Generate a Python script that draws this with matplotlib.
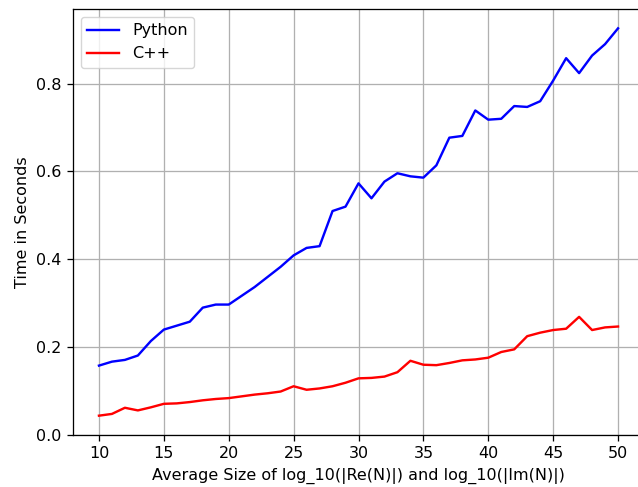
import matplotlib
matplotlib.use("Agg")
import matplotlib.pyplot as plt

sizes = list(range(10, 51))
python_times = [0.158, 0.167, 0.171, 0.181, 0.214, 0.240, 0.249, 0.258, 0.290, 0.297,
                0.297, 0.317, 0.337, 0.360, 0.383, 0.409, 0.426, 0.430, 0.510, 0.520,
                0.573, 0.539, 0.577, 0.596, 0.589, 0.586, 0.614, 0.677, 0.681, 0.739,
                0.718, 0.720, 0.749, 0.747, 0.760, 0.807, 0.858, 0.824, 0.864, 0.890,
                0.926]
cpp_times = [0.044, 0.048, 0.062, 0.056, 0.063, 0.071, 0.072, 0.075, 0.079, 0.082,
             0.084, 0.088, 0.092, 0.095, 0.099, 0.111, 0.103, 0.106, 0.111, 0.119,
             0.129, 0.130, 0.133, 0.143, 0.169, 0.160, 0.159, 0.164, 0.170, 0.172,
             0.176, 0.189, 0.195, 0.225, 0.233, 0.239, 0.242, 0.269, 0.239, 0.245,
             0.247]

s = 1.15
plt.rcParams.update({
    "font.size": 10 * s,
    "lines.linewidth": 1.5 * s,
    "grid.linewidth": 0.8 * s,
    "axes.linewidth": 0.8 * s,
    "xtick.major.size": 3.5 * s,
    "ytick.major.size": 3.5 * s,
    "xtick.major.width": 0.8 * s,
    "ytick.major.width": 0.8 * s,
    "xtick.major.pad": 3.5 * s,
    "ytick.major.pad": 3.5 * s,
    "axes.labelpad": 4.0 * s,
})

fig = plt.figure(figsize=(6.38, 4.87), dpi=100)
ax = fig.add_axes([73 / 638, (487 - 435) / 487, 571 / 638, 426 / 487])
ax.plot(sizes, python_times, color="blue", label="Python")
ax.plot(sizes, cpp_times, color="red", label="C++")
ax.set_ylim(0.0, 0.97)
ax.grid(True)
ax.set_xlabel("Average Size of log_10(|Re(N)|) and log_10(|Im(N)|)")
ax.set_ylabel("Time in Seconds")
ax.legend(loc="upper left")
fig.savefig("out.png", dpi=100)
